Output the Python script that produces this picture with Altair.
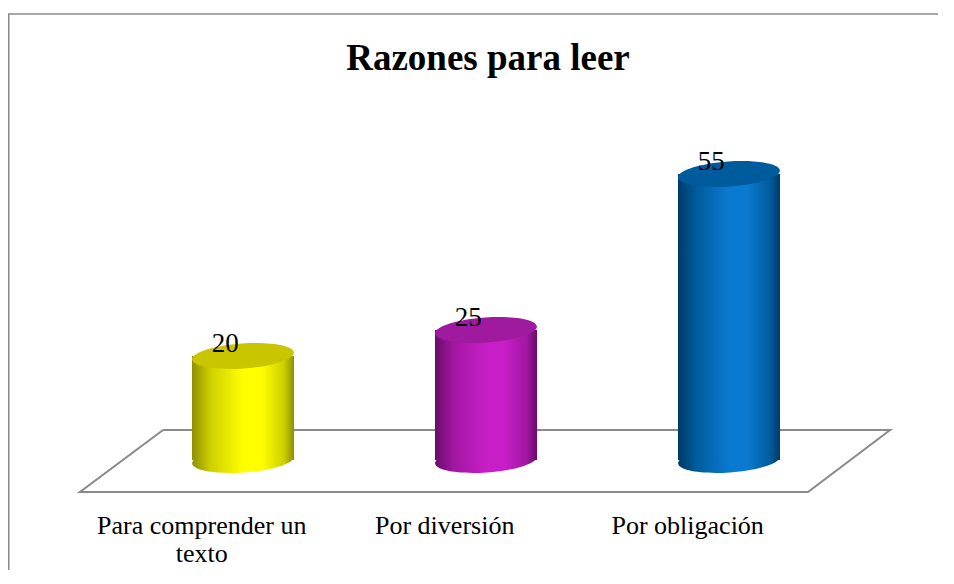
import altair as alt
import pandas as pd

# ---- data ----
categories = ["Para comprender un\ntexto", "Por diversión", "Por obligación"]
values = [20, 25, 55]
title_text = "Razones para leer"

# cylinder colours (edge -> highlight -> edge) and cap colours
side_dark = ["#8f8f00", "#6a0b6a", "#003a68"]
side_mid = ["#cfcf00", "#a117a1", "#005c9c"]
side_light = ["#ffff00", "#c81ec8", "#0a7ad0"]
cap_colors = ["#c9c600", "#a01aa0", "#005b9c"]

# floor outline (data units: category index / value)
floor_x = [-0.329, 2.663, 2.325, -0.671, -0.329]
floor_y = [5.77, 5.77, -6.15, -6.15, 5.77]

# ---- layout ----
W, H = 930, 562
X_LO, X_HI = -0.96708, 2.86008
Y_LO, Y_HI = -21.154, 86.923
HALF = 0.21           # half width of a cylinder in category units
SYM = 10404           # symbol size -> 102 px wide ellipse
ELLIPSE = ("M -1 0 C -1 -0.135 -0.552 -0.245 0 -0.245 "
           "C 0.552 -0.245 1 -0.135 1 0 "
           "C 1 0.135 0.552 0.245 0 0.245 "
           "C -0.552 0.245 -1 0.135 -1 0 Z")
SERIF = "'Liberation Serif', 'Times New Roman', Times, serif"

df = pd.DataFrame({"idx": list(range(len(categories))), "cat": categories, "value": values})
xs = alt.Scale(domain=[X_LO, X_HI], nice=False, zero=False)
ys = alt.Scale(domain=[Y_LO, Y_HI], nice=False, zero=False)

floor_df = pd.DataFrame({"fx": floor_x, "fy": floor_y, "o": list(range(len(floor_x)))})
floor = alt.Chart(floor_df).mark_line(color="#8a8a8a", strokeWidth=2).encode(
    x=alt.X("fx:Q", scale=xs, axis=None),
    y=alt.Y("fy:Q", scale=ys, axis=None),
    order="o:Q",
)

layers = [floor]
base = alt.Chart(df).transform_calculate(
    x0=f"datum.idx - {HALF}", x1=f"datum.idx + {HALF}", zero="0",
    lx="datum.idx - 0.073", cx="datum.idx - 0.17",
)

for i in range(len(categories)):
    grad = alt.Gradient(
        gradient="linear", x1=0, x2=1, y1=0, y2=0,
        stops=[
            alt.GradientStop(offset=0.0, color=side_dark[i]),
            alt.GradientStop(offset=0.18, color=side_mid[i]),
            alt.GradientStop(offset=0.5, color=side_light[i]),
            alt.GradientStop(offset=0.68, color=side_light[i]),
            alt.GradientStop(offset=0.9, color=side_mid[i]),
            alt.GradientStop(offset=1.0, color=side_dark[i]),
        ],
    )
    sub = base.transform_filter(f"datum.idx == {i}")
    bottom = sub.mark_point(shape=ELLIPSE, size=SYM, filled=True, fill=grad,
                            opacity=1, strokeWidth=0, angle=356).encode(
        x=alt.X("idx:Q", scale=xs, axis=None),
        y=alt.Y("zero:Q", scale=ys, axis=None),
    )
    body = sub.mark_bar(fill=grad, strokeWidth=0, opacity=1).encode(
        x=alt.X("x0:Q", scale=xs, axis=None),
        x2="x1:Q",
        y=alt.Y("zero:Q", scale=ys, axis=None),
        y2="value:Q",
    )
    top = sub.mark_point(shape=ELLIPSE, size=SYM, filled=True, fill=cap_colors[i],
                         opacity=1, strokeWidth=0, angle=356).encode(
        x=alt.X("idx:Q", scale=xs, axis=None),
        y=alt.Y("value:Q", scale=ys, axis=None),
    )
    layers += [bottom, body, top]

value_labels = base.mark_text(font=SERIF, fontSize=27, baseline="alphabetic",
                              dy=-4, color="black", fontWeight="normal").encode(
    x=alt.X("lx:Q", scale=xs, axis=None),
    y=alt.Y("value:Q", scale=ys, axis=None),
    text="value:Q",
)
cat_labels = base.mark_text(font=SERIF, fontSize=26, baseline="alphabetic",
                            lineBreak="\n", lineHeight=28, color="black",
                            fontWeight="normal").encode(
    x=alt.X("cx:Q", scale=xs, axis=None),
    y=alt.value(526),
    text="cat:N",
)
title = alt.Chart(pd.DataFrame({"t": [title_text]})).mark_text(
    font=SERIF, fontSize=37, fontWeight="bold", baseline="alphabetic", color="black"
).encode(x=alt.value(480), y=alt.value(62), text="t:N")

frame_df = pd.DataFrame({"k": [0]})
top_border = alt.Chart(frame_df).mark_rule(color="#8a8a8a", strokeWidth=1.5).encode(
    x=alt.value(0), x2=alt.value(W), y=alt.value(6))
left_border = alt.Chart(frame_df).mark_rule(color="#8a8a8a", strokeWidth=1.5).encode(
    x=alt.value(0.75), y=alt.value(6), y2=alt.value(H))

layers += [value_labels, cat_labels, title, top_border, left_border]

chart = alt.layer(*layers).properties(
    width=W, height=H, padding=0,
    autosize=alt.AutoSizeParams(type="none"),
).configure_view(stroke=None)

chart.save("out.html", embed_options={"renderer": "svg", "actions": False})
